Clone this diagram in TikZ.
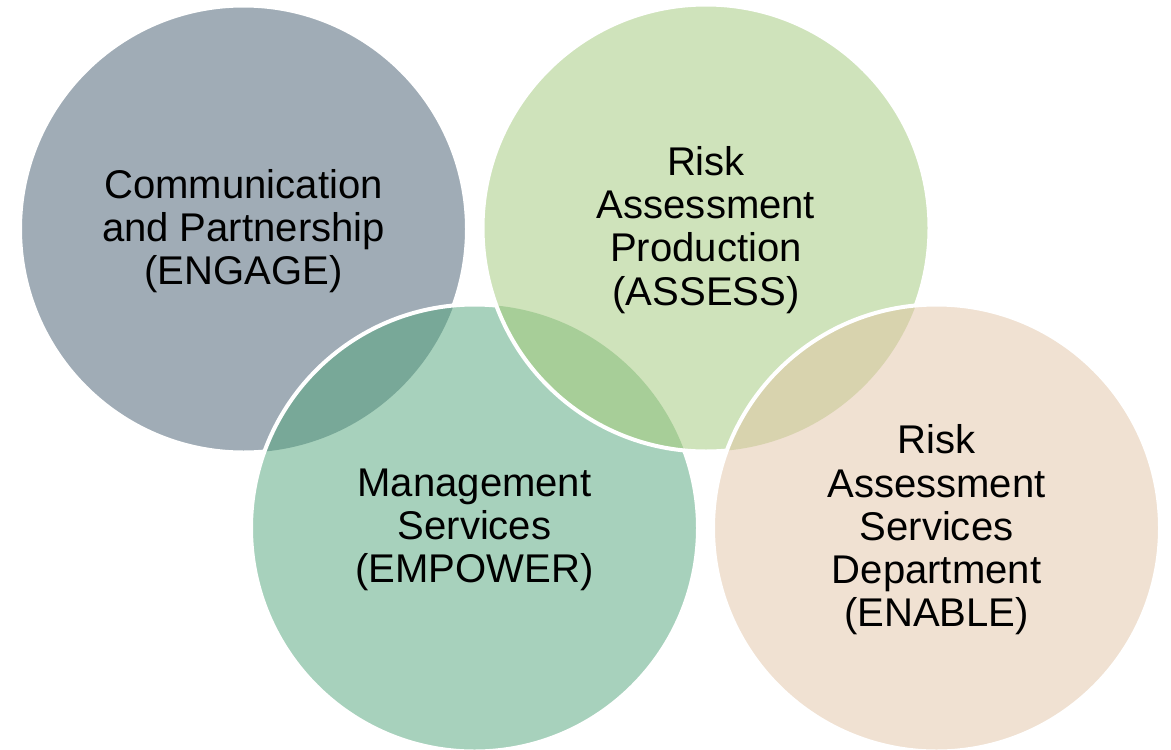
\documentclass[tikz,border=0pt]{standalone}
\usepackage{fontspec}
\setmainfont{Liberation Sans}
\usepackage{tikz}

\definecolor{engagecol}{HTML}{A0ACB6}
\definecolor{assesscol}{HTML}{CFE3BB}
\definecolor{empowercol}{HTML}{A7D1BC}
\definecolor{enablecol}{HTML}{F0E1D2}
\definecolor{engempcol}{HTML}{78A898}
\definecolor{assempcol}{HTML}{A7CE98}
\definecolor{assenacol}{HTML}{D8D3AE}

\tikzset{
  rim/.style={draw=white, line width=0.08cm},
  venntext/.style={align=center, text=black, yshift=-0.04cm, font=\fontsize{22.8pt}{24.6pt}\selectfont}
}

\begin{document}
\begin{tikzpicture}
			\useasboundingbox (0,0) rectangle (23.42,-14.98);

			\coordinate (engage) at (4.87,-4.58);
			\coordinate (assess) at (14.12,-4.56);
			\coordinate (empower) at (9.49,-10.56);
			\coordinate (enable) at (18.73,-10.56);
			\def\rad{4.47}

			\fill[engagecol] (engage) circle (\rad);
			\draw[rim] (engage) circle (\rad);

			\fill[empowercol] (empower) circle (\rad);
			\begin{scope}
				\clip (engage) circle (\rad);
				\fill[engempcol] (empower) circle (\rad);
			\end{scope}
			\draw[rim] (empower) circle (\rad);

			\fill[assesscol] (assess) circle (\rad);
			\begin{scope}
				\clip (empower) circle (\rad);
				\fill[assempcol] (assess) circle (\rad);
			\end{scope}
			\draw[rim] (assess) circle (\rad);

			\fill[enablecol] (enable) circle (\rad);
			\begin{scope}
				\clip (assess) circle (\rad);
				\fill[assenacol] (enable) circle (\rad);
			\end{scope}
			\draw[rim] (enable) circle (\rad);

			\node[venntext] (t1) at (engage) {Communication\\and Partnership\\(ENGAGE)};
			\node[venntext] (t2) at (assess) {Risk\\Assessment\\Production\\(ASSESS)};
			\node[venntext] (t3) at (empower) {Management\\Services\\(EMPOWER)};
			\node[venntext] (t4) at (enable) {Risk\\Assessment\\Services\\Department\\(ENABLE)};
		\end{tikzpicture}
\end{document}
